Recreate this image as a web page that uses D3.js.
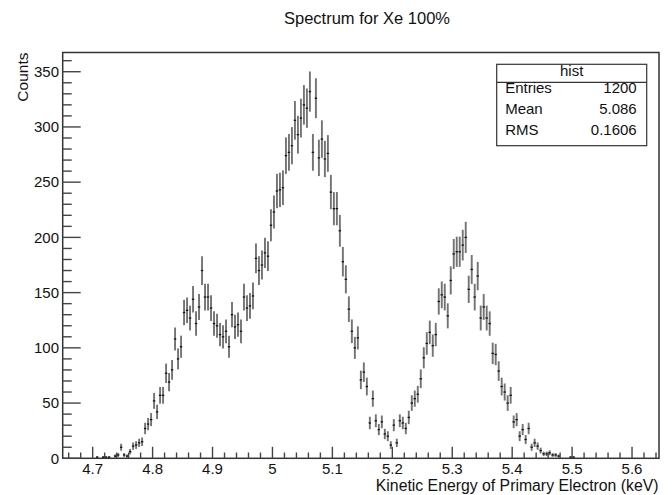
<!DOCTYPE html>
<html>
<head>
<meta charset="utf-8">
<script src="https://cdn.jsdelivr.net/npm/d3@7"></script>
<style>
  html, body { margin: 0; padding: 0; background: #fff; }
  svg { display: block; font-family: "Liberation Sans", Arial, Helvetica, sans-serif; }
</style>
</head>
<body>
<svg id="chart" width="672" height="495"></svg>
<script>
// Histogram binning: 199 bins of 0.005 keV starting at 4.65 keV
const binLow = 4.65;
const binWidth = 0.005;

// Bin contents (counts per bin), first bin at 4.650 keV
const counts = [
  0, 0, 0, 0, 0, 0, 0, 0, 0, 0,
  0, 1, 0, 1, 1, 1, 0, 2, 3, 10,
  3, 2, 6, 11, 12, 14, 15, 27, 31, 35,
  52, 42, 57, 57, 77, 69, 80, 108, 90, 101,
  132, 134, 127, 144, 122, 137, 170, 146, 146, 136,
  122, 120, 112, 110, 115, 101, 130, 119, 121, 115,
  146, 136, 138, 147, 181, 170, 175, 186, 183, 211,
  223, 242, 243, 245, 274, 277, 283, 306, 293, 308,
  320, 317, 332, 277, 326, 272, 289, 271, 276, 241,
  226, 226, 206, 178, 162, 135, 115, 100, 109, 71,
  78, 65, 32, 54, 34, 26, 33, 22, 20, 12,
  30, 14, 34, 32, 27, 37, 50, 54, 58, 72,
  91, 104, 114, 102, 112, 142, 148, 146, 129, 161,
  185, 187, 187, 193, 200, 153, 171, 146, 165, 127,
  137, 127, 122, 95, 94, 79, 65, 60, 50, 57,
  33, 35, 20, 26, 17, 27, 10, 14, 11, 7,
  4, 4, 5, 3, 3, 2, 0, 0, 0, 1,
  1, 0, 0, 0, 0, 0, 0, 0, 0, 0,
  0, 0, 0, 0, 0, 0, 0, 0, 0, 0,
  0, 0, 0, 0, 0, 0, 0, 0, 0
];

const xTicks = [4.7, 4.8, 4.9, 5.0, 5.1, 5.2, 5.3, 5.4, 5.5, 5.6];
const xTickLabels = ["4.7", "4.8", "4.9", "5", "5.1", "5.2", "5.3", "5.4", "5.5", "5.6"];
const yTicks = [0, 50, 100, 150, 200, 250, 300, 350];

const statsTitle = "hist";
const statsRows = [["Entries", "1200"], ["Mean", "5.086"], ["RMS", "0.1606"]];

const titleText = "Spectrum for Xe 100%";
const xTitle = "Kinetic Energy of Primary Electron (keV)";
const yTitle = "Counts";

// Frame geometry
const frame = { left: 62.7, right: 659, top: 52.5, bottom: 458.3 };
const xMax = binLow + binWidth * counts.length;
const yMax = 367.4;

const svg = d3.select("#chart");

const x = d3.scaleLinear().domain([binLow, xMax]).range([frame.left, frame.right]);
const y = d3.scaleLinear().domain([0, yMax]).range([frame.bottom, frame.top]);

// Title
svg.append("text")
  .attr("x", 367).attr("y", 23.5)
  .attr("text-anchor", "middle")
  .attr("font-size", 16.5)
  .attr("fill", "#111")
  .text(titleText);

// Data points with sqrt(N) error bars
const bins = counts.map((c, i) => ({
  c: c,
  lo: binLow + i * binWidth,
  mid: binLow + (i + 0.5) * binWidth,
  hi: binLow + (i + 1) * binWidth
})).filter(d => d.c > 0);

const g = svg.append("g");
g.selectAll("line.err")
  .data(bins)
  .join("line")
  .attr("class", "err")
  .attr("x1", d => x(d.mid)).attr("x2", d => x(d.mid))
  .attr("y1", d => y(d.c + Math.sqrt(d.c)))
  .attr("y2", d => y(Math.max(0, d.c - Math.sqrt(d.c))))
  .attr("stroke", "#737373")
  .attr("stroke-width", 1.9);

g.selectAll("line.xerr")
  .data(bins)
  .join("line")
  .attr("class", "xerr")
  .attr("x1", d => x(d.lo) + 0.3).attr("x2", d => x(d.hi) - 0.3)
  .attr("y1", d => y(d.c)).attr("y2", d => y(d.c))
  .attr("stroke", "#111")
  .attr("stroke-width", 1.3);

// Frame
svg.append("rect")
  .attr("x", frame.left).attr("y", frame.top)
  .attr("width", frame.right - frame.left)
  .attr("height", frame.bottom - frame.top)
  .attr("fill", "none")
  .attr("stroke", "#333")
  .attr("stroke-width", 1.5);

// X axis ticks (major 0.1, minor 0.02), pointing up into the frame
const xMinor = d3.range(Math.round(4.66 * 100), Math.round(5.64 * 100) + 1, 2).map(v => v / 100);
const axisColor = "#444";
svg.append("g").selectAll("line")
  .data(xMinor)
  .join("line")
  .attr("x1", d => x(d)).attr("x2", d => x(d))
  .attr("y1", frame.bottom)
  .attr("y2", d => frame.bottom - (xTicks.some(t => Math.abs(t - d) < 1e-6) ? 11.5 : 5.8))
  .attr("stroke", axisColor)
  .attr("stroke-width", 1.4);

svg.append("g").selectAll("text")
  .data(xTicks)
  .join("text")
  .attr("x", d => x(d))
  .attr("y", 474)
  .attr("text-anchor", "middle")
  .attr("font-size", 15)
  .attr("fill", "#111")
  .text((d, i) => xTickLabels[i]);

// Y axis ticks (major 50, minor 10), pointing right into the frame
const yMinor = d3.range(0, 361, 10);
svg.append("g").selectAll("line")
  .data(yMinor)
  .join("line")
  .attr("x1", frame.left)
  .attr("x2", d => frame.left + (d % 50 === 0 ? 18 : 9))
  .attr("y1", d => y(d)).attr("y2", d => y(d))
  .attr("stroke", axisColor)
  .attr("stroke-width", 1.4);

svg.append("g").selectAll("text")
  .data(yTicks)
  .join("text")
  .attr("x", 59)
  .attr("y", d => y(d) + 5.3)
  .attr("text-anchor", "end")
  .attr("font-size", 15)
  .attr("fill", "#111")
  .text(d => d);

// Axis titles
svg.append("text")
  .attr("x", 658.5).attr("y", 491)
  .attr("text-anchor", "end")
  .attr("font-size", 15.8)
  .attr("fill", "#111")
  .text(xTitle);

svg.append("text")
  .attr("transform", "translate(28.3," + frame.top + ") rotate(-90)")
  .attr("text-anchor", "end")
  .attr("font-size", 15.5)
  .attr("fill", "#111")
  .text(yTitle);

// Statistics box
const sb = { x: 496.7, y: 64.3, w: 150, h: 81.4, head: 18 };
const stats = svg.append("g");
stats.append("rect")
  .attr("x", sb.x).attr("y", sb.y).attr("width", sb.w).attr("height", sb.h)
  .attr("fill", "#fff").attr("stroke", "#333").attr("stroke-width", 1.2);
stats.append("line")
  .attr("x1", sb.x).attr("x2", sb.x + sb.w)
  .attr("y1", sb.y + sb.head).attr("y2", sb.y + sb.head)
  .attr("stroke", "#333").attr("stroke-width", 1.2);
stats.append("text")
  .attr("x", sb.x + sb.w / 2).attr("y", sb.y + 12)
  .attr("text-anchor", "middle")
  .attr("font-size", 15)
  .attr("fill", "#111")
  .text(statsTitle);
statsRows.forEach((r, i) => {
  const by = sb.y + 28.8 + i * 20.7;
  stats.append("text")
    .attr("x", sb.x + 8.5).attr("y", by)
    .attr("font-size", 15).attr("fill", "#111")
    .text(r[0]);
  stats.append("text")
    .attr("x", sb.x + sb.w - 10).attr("y", by)
    .attr("text-anchor", "end")
    .attr("font-size", 15).attr("fill", "#111")
    .text(r[1]);
});
</script>
</body>
</html>
